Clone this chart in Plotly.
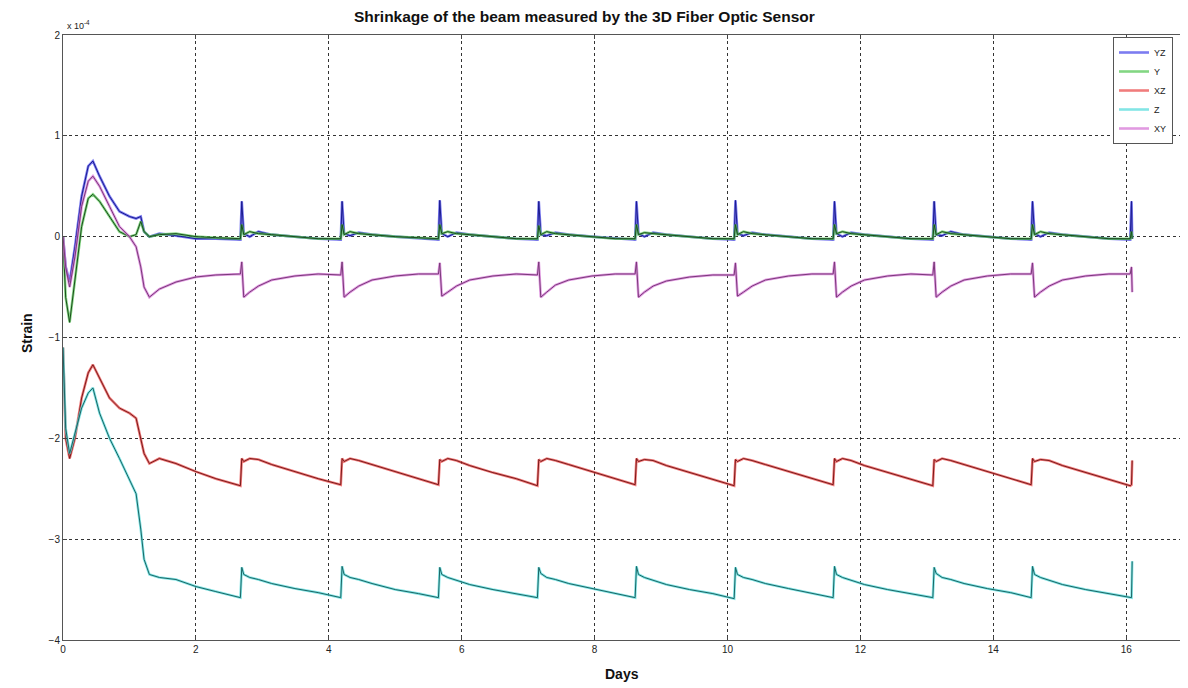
import plotly.graph_objects as go

# Days (shared sample times)
days = [
    0.00, 0.04, 0.10, 0.18, 0.28, 0.38, 0.45, 0.55, 0.70, 0.85,
    1.00, 1.10, 1.17, 1.22, 1.30, 1.45, 1.70, 2.00, 2.30, 2.67,
    2.69, 2.72, 2.81, 2.94, 3.14, 3.49, 3.84, 4.18,
    4.20, 4.23, 4.32, 4.45, 4.65, 5.00, 5.35, 5.65,
    5.67, 5.70, 5.79, 5.92, 6.12, 6.47, 6.82, 7.14,
    7.16, 7.19, 7.28, 7.41, 7.61, 7.96, 8.31, 8.61,
    8.63, 8.66, 8.75, 8.88, 9.08, 9.43, 9.78, 10.10,
    10.12, 10.15, 10.24, 10.37, 10.57, 10.92, 11.27, 11.59,
    11.61, 11.64, 11.73, 11.86, 12.06, 12.41, 12.76, 13.09,
    13.11, 13.14, 13.23, 13.36, 13.56, 13.91, 14.26, 14.57,
    14.59, 14.62, 14.71, 14.84, 15.04, 15.39, 15.74, 16.06,
    16.08, 16.09,
]

# Strain values in units of 1e-4
yz = [
    0.00, -0.30, -0.45, -0.10, 0.40, 0.70, 0.75, 0.60, 0.40, 0.25,
    0.20, 0.18, 0.20, 0.05, 0.00, 0.03, 0.01, -0.02, -0.02, -0.03,
    0.35, 0.03, 0.00, 0.05, 0.02, 0.00, -0.02, -0.03,
    0.35, 0.03, 0.01, 0.04, 0.02, 0.00, -0.02, -0.03,
    0.36, 0.03, 0.00, 0.04, 0.02, 0.00, -0.02, -0.03,
    0.35, 0.02, 0.01, 0.04, 0.02, 0.00, -0.02, -0.03,
    0.35, 0.03, 0.00, 0.04, 0.02, 0.00, -0.02, -0.03,
    0.36, 0.03, 0.01, 0.04, 0.02, 0.00, -0.02, -0.03,
    0.35, 0.03, 0.00, 0.04, 0.02, 0.00, -0.02, -0.03,
    0.35, 0.02, 0.01, 0.05, 0.02, 0.00, -0.02, -0.03,
    0.35, 0.03, 0.00, 0.04, 0.02, 0.00, -0.02, -0.03,
    0.35, -0.02,
]

y_ = [
    0.00, -0.60, -0.85, -0.40, 0.10, 0.38, 0.42, 0.35, 0.20, 0.05,
    0.00, 0.02, 0.15, 0.05, 0.00, 0.02, 0.03, 0.00, -0.01, -0.02,
    0.12, 0.02, 0.05, 0.03, 0.02, 0.00, -0.02, -0.02,
    0.12, 0.02, 0.05, 0.03, 0.02, 0.00, -0.01, -0.02,
    0.12, 0.03, 0.05, 0.03, 0.02, 0.00, -0.02, -0.02,
    0.11, 0.02, 0.05, 0.03, 0.02, 0.00, -0.02, -0.02,
    0.12, 0.02, 0.04, 0.03, 0.02, 0.00, -0.02, -0.02,
    0.12, 0.02, 0.05, 0.03, 0.02, 0.00, -0.02, -0.02,
    0.12, 0.03, 0.05, 0.03, 0.02, 0.00, -0.02, -0.02,
    0.12, 0.02, 0.05, 0.03, 0.02, 0.00, -0.02, -0.02,
    0.12, 0.02, 0.05, 0.03, 0.02, 0.00, -0.02, -0.02,
    0.05, -0.02,
]

xz = [
    -1.10, -2.00, -2.20, -2.00, -1.60, -1.35, -1.27, -1.40, -1.60, -1.70,
    -1.75, -1.80, -2.00, -2.15, -2.25, -2.20, -2.25, -2.33, -2.40, -2.47,
    -2.20, -2.23, -2.20, -2.21, -2.26, -2.33, -2.40, -2.46,
    -2.20, -2.23, -2.20, -2.22, -2.26, -2.33, -2.40, -2.46,
    -2.21, -2.23, -2.20, -2.22, -2.27, -2.34, -2.40, -2.47,
    -2.21, -2.23, -2.20, -2.22, -2.26, -2.33, -2.40, -2.46,
    -2.20, -2.23, -2.21, -2.22, -2.27, -2.34, -2.41, -2.47,
    -2.21, -2.23, -2.20, -2.22, -2.26, -2.33, -2.40, -2.46,
    -2.20, -2.23, -2.20, -2.22, -2.27, -2.34, -2.41, -2.47,
    -2.21, -2.23, -2.20, -2.22, -2.26, -2.33, -2.40, -2.46,
    -2.20, -2.23, -2.21, -2.22, -2.27, -2.34, -2.41, -2.47,
    -2.46, -2.22,
]

z = [
    -1.10, -1.90, -2.15, -1.95, -1.70, -1.55, -1.50, -1.75, -2.00, -2.20,
    -2.40, -2.55, -2.90, -3.20, -3.35, -3.38, -3.40, -3.47, -3.52, -3.58,
    -3.28, -3.35, -3.38, -3.40, -3.44, -3.49, -3.53, -3.58,
    -3.27, -3.35, -3.38, -3.40, -3.44, -3.50, -3.54, -3.58,
    -3.28, -3.35, -3.38, -3.41, -3.45, -3.50, -3.54, -3.58,
    -3.28, -3.34, -3.38, -3.40, -3.44, -3.49, -3.54, -3.58,
    -3.27, -3.35, -3.38, -3.41, -3.45, -3.50, -3.54, -3.59,
    -3.28, -3.35, -3.38, -3.40, -3.44, -3.49, -3.54, -3.58,
    -3.27, -3.35, -3.38, -3.41, -3.45, -3.50, -3.54, -3.58,
    -3.28, -3.34, -3.38, -3.40, -3.44, -3.49, -3.53, -3.58,
    -3.27, -3.35, -3.38, -3.41, -3.45, -3.50, -3.54, -3.58,
    -3.58, -3.22,
]

xy = [
    0.00, -0.30, -0.50, -0.20, 0.30, 0.55, 0.60, 0.50, 0.30, 0.10,
    0.00, -0.10, -0.30, -0.50, -0.60, -0.52, -0.45, -0.40, -0.38, -0.37,
    -0.25, -0.60, -0.55, -0.49, -0.43, -0.39, -0.37, -0.38,
    -0.25, -0.60, -0.55, -0.49, -0.43, -0.39, -0.37, -0.37,
    -0.26, -0.59, -0.55, -0.49, -0.43, -0.39, -0.37, -0.38,
    -0.25, -0.60, -0.55, -0.48, -0.43, -0.39, -0.37, -0.37,
    -0.25, -0.60, -0.55, -0.49, -0.44, -0.40, -0.38, -0.38,
    -0.26, -0.59, -0.55, -0.49, -0.43, -0.39, -0.37, -0.37,
    -0.25, -0.60, -0.55, -0.49, -0.43, -0.39, -0.37, -0.38,
    -0.25, -0.60, -0.55, -0.49, -0.43, -0.39, -0.37, -0.37,
    -0.26, -0.60, -0.55, -0.49, -0.43, -0.39, -0.37, -0.37,
    -0.30, -0.55,
]

series_names = ["YZ", "Y", "XZ", "Z", "XY"]
series_values = [yz, y_, xz, z, xy]
halo_colors = ["rgba(80,80,235,0.75)", "rgba(90,200,90,0.75)", "rgba(235,80,80,0.75)",
               "rgba(90,220,220,0.75)", "rgba(215,120,215,0.75)"]
core_colors = ["#1a1a90", "#1d4d1d", "#7a1a1a", "#1a6666", "#7a3a7a"]

x_ticks = [0, 2, 4, 6, 8, 10, 12, 14, 16]
y_ticks = [-4, -3, -2, -1, 0, 1, 2]

fig = go.Figure()
for name, vals, hc, cc in zip(series_names, series_values, halo_colors, core_colors):
    fig.add_trace(go.Scatter(x=days, y=vals, mode="lines", name=name,
                             legendgroup=name,
                             line=dict(color=hc, width=2.6)))
    fig.add_trace(go.Scatter(x=days, y=vals, mode="lines", name=name,
                             legendgroup=name, showlegend=False,
                             line=dict(color=cc, width=1)))

# The page body adds an 8 px offset; the figure is sized to compensate.
W, H = 1180, 680
L, T, B = 55, 27, 48
PW = W - L
PH = H - T - B

font_family = "Liberation Sans, Arial, sans-serif"
fig.update_layout(
    width=W, height=H,
    margin=dict(l=L, r=0, t=T, b=B, autoexpand=False),
    paper_bgcolor="white", plot_bgcolor="white",
    font=dict(family=font_family, size=10, color="#222"),
    showlegend=True,
    legend=dict(x=(1105 - L) / PW, y=1 - 2 / PH, xanchor="left", yanchor="top",
                bgcolor="white", bordercolor="#555", borderwidth=1,
                font=dict(size=9, color="#222"), tracegroupgap=0),
    xaxis=dict(range=[0, 16.93], tickvals=x_ticks, ticks="inside", ticklen=4,
               showgrid=True, gridcolor="#333", griddash="dot", gridwidth=1,
               showline=True, linecolor="#555", linewidth=1, mirror="ticks",
               zeroline=False, tickfont=dict(size=10, color="#222")),
    yaxis=dict(range=[-4, 2], tickvals=y_ticks, ticks="inside", ticklen=4,
               showgrid=True, gridcolor="#333", griddash="dot", gridwidth=1,
               showline=True, linecolor="#555", linewidth=1,
               zeroline=False, tickfont=dict(size=10, color="#222")),
    annotations=[
        dict(text="<b>Shrinkage of the beam measured by the 3D Fiber Optic Sensor</b>",
             xref="paper", yref="paper", x=(576 - L) / PW, y=1, yshift=8,
             xanchor="center", yanchor="bottom", showarrow=False,
             font=dict(size=15.5, color="#111")),
        dict(text="<b>Days</b>", xref="paper", yref="paper",
             x=(614 - L) / PW, y=0, yshift=-24, xanchor="center", yanchor="top",
             showarrow=False, font=dict(size=14, color="#111")),
        dict(text="<b>Strain</b>", xref="paper", yref="paper", textangle=-90,
             x=0, xshift=-36, y=(632 - 325) / PH, xanchor="center", yanchor="middle",
             showarrow=False, font=dict(size=14, color="#111")),
        dict(text="x 10<sup>-4</sup>", xref="paper", yref="paper",
             x=0, xshift=2, y=1, yshift=2, xanchor="left", yanchor="bottom",
             showarrow=False, font=dict(size=9, color="#222")),
    ],
)

fig.write_html("out.html")
